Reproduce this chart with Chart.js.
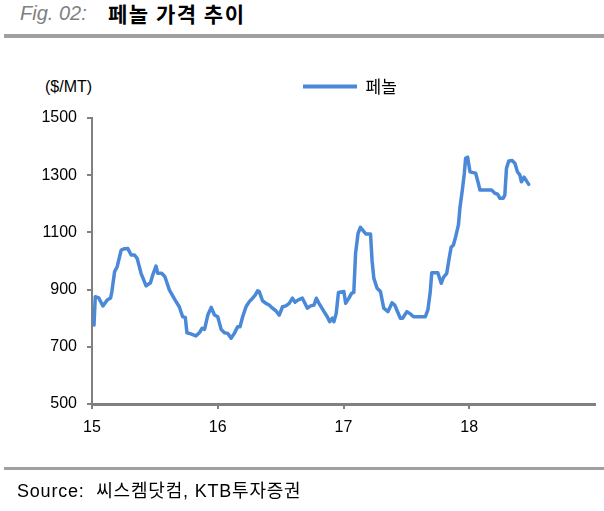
<!DOCTYPE html>
<html>
<head>
<meta charset="utf-8">
<script src="https://cdn.jsdelivr.net/npm/chart.js@4"></script>
<style>
html,body{margin:0;padding:0;background:#fff;}
body{width:604px;height:511px;position:relative;overflow:hidden;}
#c{position:absolute;left:0;top:0;}
.t{position:absolute;white-space:nowrap;}
.rule{position:absolute;background:#a0a0a0;}
</style>
</head>
<body>
<div class="t" style="left:20px;top:1px;font:italic 20px 'Liberation Sans',Arial,sans-serif;color:#7f7f7f;line-height:24px;">Fig. 02:</div>
<div class="t" style="left:108px;top:1px;font:bold 21px 'Noto Sans CJK KR',sans-serif;line-height:24px;letter-spacing:1.5px;color:#000;">페놀 가격 추이</div>
<div class="rule" style="left:4px;top:34px;width:600px;height:4px;"></div>
<div class="t" style="left:45px;top:77px;font:16px 'Liberation Sans',Arial,sans-serif;line-height:20px;color:#000;">($/MT)</div>
<canvas id="c" width="604" height="511"></canvas>
<div class="rule" style="left:4px;top:467px;width:600px;height:3px;"></div>
<div class="t" style="left:17px;top:480px;font:18px 'Liberation Sans','Noto Sans CJK KR',sans-serif;line-height:22px;letter-spacing:0.8px;color:#000;">Source:&nbsp; 씨스켐닷컴, KTB투자증권</div>
<script>
// x positions in (fractional) years, 15 = 2015
const years = [
15.016,15.026,15.053,15.087,15.121,15.148,15.158,15.180,15.200,15.232,
15.259,15.285,15.311,15.338,15.359,15.390,15.430,15.465,15.483,15.509,
15.523,15.554,15.580,15.615,15.660,15.694,15.721,15.742,15.755,15.786,
15.826,15.855,15.876,15.895,15.921,15.948,15.974,16.000,16.027,16.053,
16.079,16.106,16.132,16.158,16.177,16.198,16.225,16.251,16.277,16.298,
16.317,16.330,16.356,16.383,16.409,16.435,16.462,16.489,16.515,16.542,
16.568,16.594,16.615,16.641,16.673,16.713,16.739,16.766,16.784,16.805,
16.845,16.871,16.890,16.911,16.924,16.942,16.960,17.003,17.017,17.043,
17.064,17.082,17.096,17.116,17.135,17.162,17.180,17.215,17.227,17.241,
17.267,17.294,17.320,17.354,17.386,17.407,17.452,17.470,17.504,17.531,
17.557,17.650,17.671,17.690,17.702,17.750,17.777,17.795,17.821,17.840,
17.856,17.874,17.892,17.914,17.927,17.945,17.961,17.971,17.987,18.006,
18.032,18.051,18.072,18.085,18.177,18.204,18.225,18.244,18.270,18.283,
18.296,18.315,18.341,18.363,18.383,18.402,18.415,18.436,18.454,18.473
];
// phenol price, $/MT
const prices = [
776,875,871,843,864,871,893,963,980,1038,
1043,1044,1021,1021,1009,957,913,924,951,982,
957,957,945,899,864,840,805,803,749,745,
738,750,765,761,811,838,811,805,761,749,
747,730,747,770,770,805,840,858,870,881,
896,893,861,852,846,835,826,811,840,843,
852,870,856,864,870,835,843,846,870,852,
823,805,788,800,788,817,890,893,852,870,
887,890,1027,1097,1118,1103,1094,1094,1003,940,
905,893,835,823,854,846,800,800,823,815,
805,805,829,893,959,959,922,943,957,1009,
1048,1056,1085,1126,1190,1248,1307,1359,1363,1312,
1309,1307,1272,1248,1248,1237,1234,1219,1219,1231,
1324,1350,1351,1342,1312,1301,1277,1293,1281,1268
];
const seriesLabel = '페놀';
const xTickYears = [15, 16, 17, 18];
const xTickLabels = ['15', '16', '17', '18'];
const yTickValues = [500, 700, 900, 1100, 1300, 1500];
const yTickLabels = ['500', '700', '900', '1100', '1300', '1500'];

const lineColor = '#4a88d8';
const axisGray = '#808080';
const tickFont = {family: "'Liberation Sans',Arial,sans-serif", size: 16};

const legendMover = {
  id: 'legendMover',
  afterLayout(chart) {
    const lg = chart.legend;
    if (!lg) return;
    const p = lg.options.labels.padding;
    const h = lg.height;
    lg.left = 303 - p;
    lg.right = chart.width;
    lg.top = 68;
    lg.bottom = 68 + h;
  }
};

new Chart(document.getElementById('c'), {
  type: 'line',
  data: {
    datasets: [{
      label: seriesLabel,
      data: years.map((x, i) => ({x: x, y: prices[i]})),
      borderColor: lineColor,
      backgroundColor: lineColor,
      borderWidth: 3.5,
      pointRadius: 0,
      tension: 0,
      borderJoinStyle: 'round',
      borderCapStyle: 'round',
      fill: false
    }]
  },
  options: {
    responsive: false,
    devicePixelRatio: 1,
    animation: false,
    layout: {padding: {top: 81, left: 0, right: 9, bottom: 0}},
    plugins: {
      legend: {
        display: true,
        position: 'top',
        align: 'start',
        labels: {
          boxWidth: 54,
          boxHeight: 4,
          padding: 10,
          color: '#000',
          font: {family: "'Noto Sans CJK KR',sans-serif", size: 17},
          generateLabels: (chart) => [{
            text: chart.data.datasets[0].label,
            fillStyle: lineColor,
            strokeStyle: lineColor,
            lineWidth: 0,
            datasetIndex: 0,
            hidden: false
          }]
        }
      },
      tooltip: {enabled: false}
    },
    scales: {
      x: {
        type: 'linear',
        min: 15,
        max: 19,
        afterFit: (s) => { s.height = 107; },
        afterBuildTicks: (s) => { s.ticks = [15, 16, 17, 18, 19].map(v => ({value: v})); },
        ticks: {
          autoSkip: false,
          maxRotation: 0,
          padding: 9,
          color: '#000',
          font: tickFont,
          callback: (v) => { const i = xTickYears.indexOf(v); return i >= 0 ? xTickLabels[i] : ''; }
        },
        grid: {
          drawOnChartArea: false,
          drawTicks: true,
          tickLength: 5,
          lineWidth: 2,
          color: (c) => (c.tick && c.tick.value === 19) ? 'rgba(0,0,0,0)' : axisGray
        },
        border: {display: true, color: axisGray, width: 3}
      },
      y: {
        min: 500,
        max: 1500,
        afterFit: (s) => { s.width = 92; },
        afterBuildTicks: (s) => { s.ticks = yTickValues.map(v => ({value: v})); },
        ticks: {
          autoSkip: false,
          padding: 10,
          color: '#000',
          font: tickFont,
          callback: (v) => { const i = yTickValues.indexOf(v); return i >= 0 ? yTickLabels[i] : ''; }
        },
        grid: {
          drawOnChartArea: false,
          drawTicks: true,
          tickLength: 5,
          lineWidth: 2,
          color: axisGray
        },
        border: {display: true, color: axisGray, width: 2}
      }
    }
  },
  plugins: [legendMover]
});
</script>
</body>
</html>
